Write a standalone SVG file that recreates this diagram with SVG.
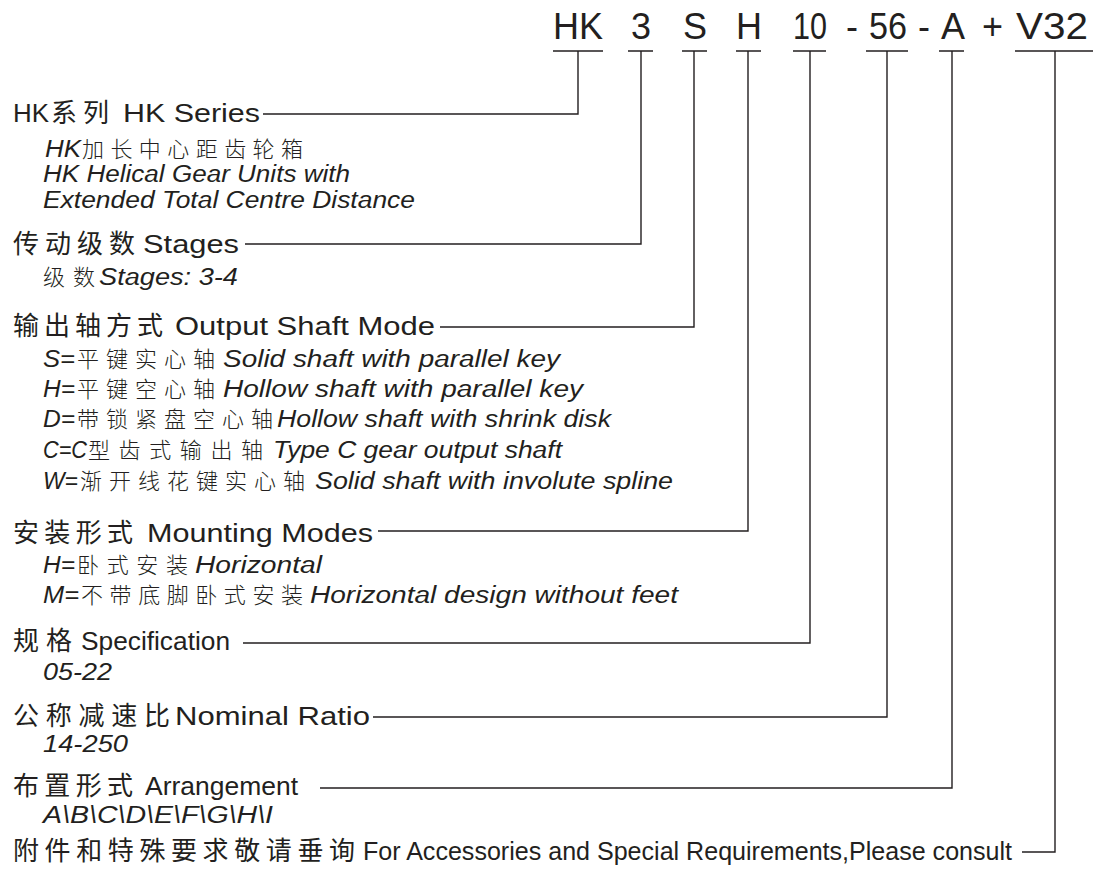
<svg xmlns="http://www.w3.org/2000/svg" width="1096" height="870" viewBox="0 0 1096 870">
<style>
text{font-family:"Liberation Sans",Arial,"Noto Sans CJK SC",sans-serif;fill:#231f20}
.hd{font-size:36px}
.lb{font-size:26px}
.cj{font-family:"Noto Sans CJK SC","Liberation Sans",sans-serif;font-size:26px}
.sb{font-size:23px;font-style:italic}
.sc{font-size:22px;font-family:"Noto Sans CJK SC",sans-serif;font-weight:300}
.ln{fill:none;stroke:#231f20;stroke-width:1.4}
</style>
<rect width="1096" height="870" fill="#ffffff"/>
<g id="code">
<text class="hd" x="553" y="39" textLength="50" lengthAdjust="spacingAndGlyphs">HK</text>
<text class="hd" x="631" y="39">3</text>
<text class="hd" x="683" y="39">S</text>
<text class="hd" x="736" y="39">H</text>
<text class="hd" x="793" y="39" textLength="34" lengthAdjust="spacingAndGlyphs">10</text>
<text class="hd" x="846" y="39">-</text>
<text class="hd" x="869" y="39" textLength="38" lengthAdjust="spacingAndGlyphs">56</text>
<text class="hd" x="918" y="39">-</text>
<text class="hd" x="941" y="39">A</text>
<text class="hd" x="982" y="39">+</text>
<text class="hd" x="1016" y="39" textLength="72" lengthAdjust="spacingAndGlyphs">V32</text>
</g>
<g id="connectors">
<path class="ln" d="M553 51H603M628 51H653M682 51H707M736 51H761M793 51H826M866 51H908M939 51H964M1015 51H1093"/>
<path class="ln" d="M263 114H578V51"/>
<path class="ln" d="M245 244H641V51"/>
<path class="ln" d="M440 327H694V51"/>
<path class="ln" d="M378 531H748V51"/>
<path class="ln" d="M243 643H810V51"/>
<path class="ln" d="M373 717H887V51"/>
<path class="ln" d="M320 788H952V51"/>
<path class="ln" d="M1022 852H1055V51"/>
</g>
<g id="series">
<text class="lb" x="13" y="122" textLength="36" lengthAdjust="spacingAndGlyphs">HK</text>
<text class="cj" x="51" y="122" textLength="58" lengthAdjust="spacing">系列</text>
<text class="lb" x="123" y="122" textLength="137" lengthAdjust="spacingAndGlyphs">HK Series</text>
<text class="sb" x="45" y="157" textLength="36" lengthAdjust="spacingAndGlyphs">HK</text>
<text class="sc" x="82" y="157" textLength="221" lengthAdjust="spacing">加长中心距齿轮箱</text>
<text class="sb" x="43" y="182" textLength="307" lengthAdjust="spacingAndGlyphs">HK Helical Gear Units with</text>
<text class="sb" x="43" y="208" textLength="372" lengthAdjust="spacingAndGlyphs">Extended Total Centre Distance</text>
</g>
<g id="stages">
<text class="cj" x="13" y="253" textLength="122" lengthAdjust="spacing">传动级数</text>
<text class="lb" x="143" y="253" textLength="96" lengthAdjust="spacingAndGlyphs">Stages</text>
<text class="sc" x="43" y="285" textLength="52" lengthAdjust="spacing">级数</text>
<text class="sb" x="99" y="285" textLength="139" lengthAdjust="spacingAndGlyphs">Stages: 3-4</text>
</g>
<g id="shaft">
<text class="cj" x="13" y="335" textLength="150" lengthAdjust="spacing">输出轴方式</text>
<text class="lb" x="175" y="335" textLength="260" lengthAdjust="spacingAndGlyphs">Output Shaft Mode</text>
<text class="sb" x="43" y="367" textLength="32" lengthAdjust="spacingAndGlyphs">S=</text>
<text class="sc" x="77" y="367" textLength="138" lengthAdjust="spacing">平键实心轴</text>
<text class="sb" x="223" y="367" textLength="337" lengthAdjust="spacingAndGlyphs">Solid shaft with parallel key</text>
<text class="sb" x="43" y="397" textLength="32" lengthAdjust="spacingAndGlyphs">H=</text>
<text class="sc" x="77" y="397" textLength="138" lengthAdjust="spacing">平键空心轴</text>
<text class="sb" x="223" y="397" textLength="360" lengthAdjust="spacingAndGlyphs">Hollow shaft with parallel key</text>
<text class="sb" x="43" y="427" textLength="32" lengthAdjust="spacingAndGlyphs">D=</text>
<text class="sc" x="77" y="427" textLength="196" lengthAdjust="spacing">带锁紧盘空心轴</text>
<text class="sb" x="277" y="427" textLength="334" lengthAdjust="spacingAndGlyphs">Hollow shaft with shrink disk</text>
<text class="sb" x="43" y="458" textLength="44" lengthAdjust="spacingAndGlyphs">C=C</text>
<text class="sc" x="88" y="458" textLength="175" lengthAdjust="spacing">型齿式输出轴</text>
<text class="sb" x="273" y="458" textLength="289" lengthAdjust="spacingAndGlyphs">Type C gear output shaft</text>
<text class="sb" x="43" y="489" textLength="35" lengthAdjust="spacingAndGlyphs">W=</text>
<text class="sc" x="80" y="489" textLength="225" lengthAdjust="spacing">渐开线花键实心轴</text>
<text class="sb" x="315" y="489" textLength="358" lengthAdjust="spacingAndGlyphs">Solid shaft with involute spline</text>
</g>
<g id="mounting">
<text class="cj" x="13" y="542" textLength="120" lengthAdjust="spacing">安装形式</text>
<text class="lb" x="147" y="542" textLength="226" lengthAdjust="spacingAndGlyphs">Mounting Modes</text>
<text class="sb" x="43" y="573" textLength="32" lengthAdjust="spacingAndGlyphs">H=</text>
<text class="sc" x="77" y="573" textLength="111" lengthAdjust="spacing">卧式安装</text>
<text class="sb" x="195" y="573" textLength="127" lengthAdjust="spacingAndGlyphs">Horizontal</text>
<text class="sb" x="43" y="603" textLength="36" lengthAdjust="spacingAndGlyphs">M=</text>
<text class="sc" x="81" y="603" textLength="222" lengthAdjust="spacing">不带底脚卧式安装</text>
<text class="sb" x="310" y="603" textLength="368" lengthAdjust="spacingAndGlyphs">Horizontal design without feet</text>
</g>
<g id="spec">
<text class="cj" x="13" y="650" textLength="59" lengthAdjust="spacing">规格</text>
<text class="lb" x="81" y="650" textLength="149" lengthAdjust="spacingAndGlyphs">Specification</text>
<text class="sb" x="43" y="680" textLength="69" lengthAdjust="spacingAndGlyphs">05-22</text>
</g>
<g id="ratio">
<text class="cj" x="13" y="725" textLength="157" lengthAdjust="spacing">公称减速比</text>
<text class="lb" x="175" y="725" textLength="195" lengthAdjust="spacingAndGlyphs">Nominal Ratio</text>
<text class="sb" x="43" y="752" textLength="85" lengthAdjust="spacingAndGlyphs">14-250</text>
</g>
<g id="arrangement">
<text class="cj" x="13" y="795" textLength="120" lengthAdjust="spacing">布置形式</text>
<text class="lb" x="145" y="795" textLength="153" lengthAdjust="spacingAndGlyphs">Arrangement</text>
<text class="sb" x="43" y="823" textLength="230" lengthAdjust="spacingAndGlyphs">A\B\C\D\E\F\G\H\I</text>
</g>
<g id="accessories">
<text class="cj" x="13" y="860" textLength="342" lengthAdjust="spacing">附件和特殊要求敬请垂询</text>
<text class="lb" x="363" y="860" textLength="649" lengthAdjust="spacingAndGlyphs">For Accessories and Special Requirements,Please consult</text>
</g>
</svg>
